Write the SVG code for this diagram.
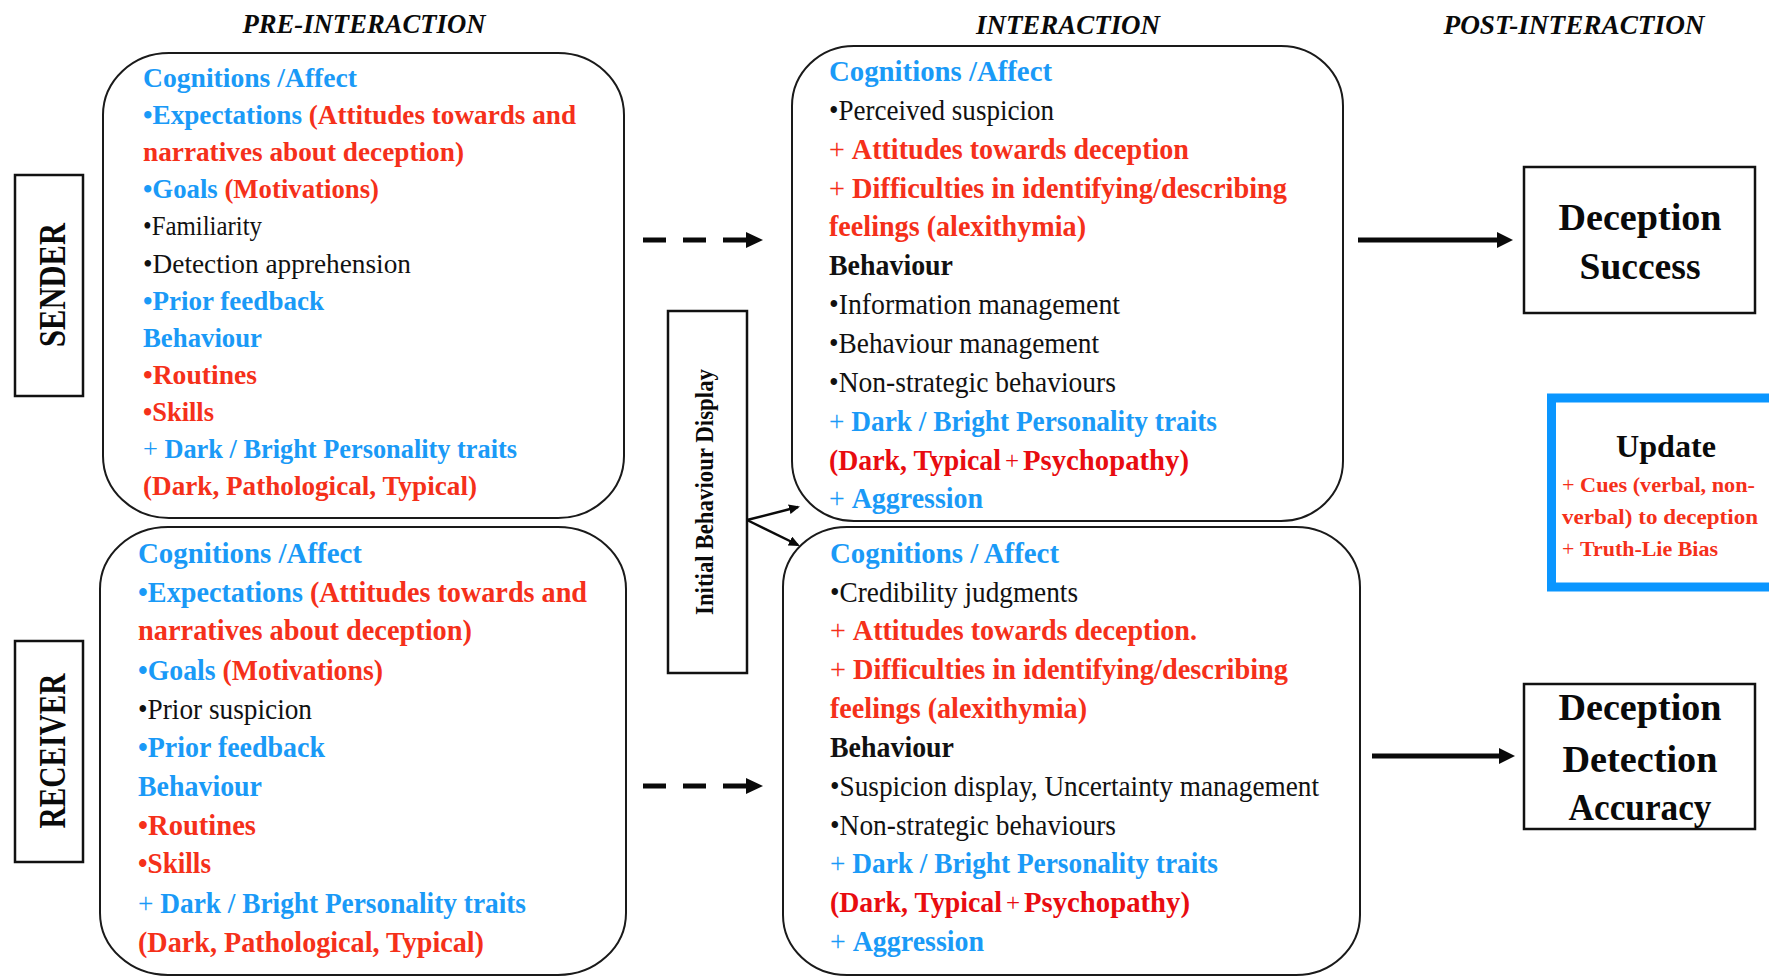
<svg xmlns="http://www.w3.org/2000/svg" width="1769" height="976" viewBox="0 0 1769 976">
<style>
text{font-family:"Liberation Serif","Times New Roman",serif;}
.h{font-size:27px;font-weight:bold;font-style:italic;fill:#0a0a0a;text-anchor:middle}
.s28{font-size:28px}
.s29{font-size:29px}
.b{font-weight:bold}
.n{font-weight:normal}
.bl{fill:#1A9AF7}
.rd{fill:#F5301A}
.rd2{fill:#E80C10}
.k{fill:#111}
.rbox{fill:#fff;stroke:#1a1a1a;stroke-width:2}
.sbox{fill:#fff;stroke:#111;stroke-width:2.5}
.side{font-size:38px;font-weight:bold;fill:#0a0a0a;text-anchor:middle}
.out{font-size:38px;font-weight:bold;fill:#0a0a0a;text-anchor:middle}
.con{stroke:#0a0a0a;fill:none}
.plus{font-size:25px;font-weight:normal}
</style>
<defs>
<marker id="bigHead" markerUnits="userSpaceOnUse" markerWidth="18" markerHeight="16" refX="0" refY="8" orient="auto">
<path d="M0,0 L16,8 L0,16 Z" fill="#0a0a0a"/>
</marker>
<marker id="smallHead" markerUnits="userSpaceOnUse" markerWidth="12" markerHeight="10" refX="9" refY="5" orient="auto">
<path d="M0,0 L11,5 L0,10 Z" fill="#0a0a0a"/>
</marker>
</defs>
<rect width="1769" height="976" fill="#fff"/>

<g id="titles">
<text class="h" x="364" y="33" textLength="243" lengthAdjust="spacingAndGlyphs">PRE-INTERACTION</text>
<text class="h" x="1068" y="34" textLength="184" lengthAdjust="spacingAndGlyphs">INTERACTION</text>
<text class="h" x="1574" y="34" textLength="261" lengthAdjust="spacingAndGlyphs">POST-INTERACTION</text>
</g>

<g id="sender">
<rect class="sbox" x="15" y="175" width="68" height="221"/>
<text class="side" transform="translate(65,285) rotate(-90)" x="0" y="0" textLength="124" lengthAdjust="spacingAndGlyphs">SENDER</text>
</g>

<g id="receiver">
<rect class="sbox" x="15" y="641" width="68" height="221"/>
<text class="side" transform="translate(65,751) rotate(-90)" x="0" y="0" textLength="155" lengthAdjust="spacingAndGlyphs">RECEIVER</text>
</g>

<g id="sender-pre">
<rect class="rbox" x="103" y="53" width="521" height="465" rx="66" ry="62"/>
<g class="s28">
<text x="143" y="87" class="b bl" textLength="214" lengthAdjust="spacingAndGlyphs">Cognitions /Affect</text>
<text x="143" y="124" class="b" textLength="433" lengthAdjust="spacingAndGlyphs"><tspan class="bl">•Expectations </tspan><tspan class="rd">(Attitudes towards and</tspan></text>
<text x="143" y="161" class="b rd" textLength="321" lengthAdjust="spacingAndGlyphs">narratives about deception)</text>
<text x="143" y="198" class="b" textLength="236" lengthAdjust="spacingAndGlyphs"><tspan class="bl">•Goals </tspan><tspan class="rd">(Motivations)</tspan></text>
<text x="143" y="235" class="k" textLength="119" lengthAdjust="spacingAndGlyphs">•Familiarity</text>
<text x="143" y="273" class="k" textLength="268" lengthAdjust="spacingAndGlyphs">•Detection apprehension</text>
<text x="143" y="310" class="b bl" textLength="181" lengthAdjust="spacingAndGlyphs">•Prior feedback</text>
<text x="143" y="347" class="b bl" textLength="119" lengthAdjust="spacingAndGlyphs">Behaviour</text>
<text x="143" y="384" class="b rd" textLength="114" lengthAdjust="spacingAndGlyphs">•Routines</text>
<text x="143" y="421" class="b rd" textLength="71" lengthAdjust="spacingAndGlyphs">•Skills</text>
<text x="143" y="458" class="bl" textLength="374" lengthAdjust="spacingAndGlyphs"><tspan class="n">+ </tspan><tspan class="b">Dark / Bright Personality traits</tspan></text>
<text x="143" y="495" class="b rd" textLength="334" lengthAdjust="spacingAndGlyphs">(Dark, Pathological, Typical)</text>
</g>
</g>

<g id="receiver-pre">
<rect class="rbox" x="100" y="527" width="526" height="448" rx="68" ry="62"/>
<g class="s29">
<text x="138" y="563" class="b bl" textLength="224" lengthAdjust="spacingAndGlyphs">Cognitions /Affect</text>
<text x="138" y="602" class="b" textLength="449" lengthAdjust="spacingAndGlyphs"><tspan class="bl">•Expectations </tspan><tspan class="rd">(Attitudes towards and</tspan></text>
<text x="138" y="640" class="b rd" textLength="334" lengthAdjust="spacingAndGlyphs">narratives about deception)</text>
<text x="138" y="680" class="b" textLength="245" lengthAdjust="spacingAndGlyphs"><tspan class="bl">•Goals </tspan><tspan class="rd">(Motivations)</tspan></text>
<text x="138" y="719" class="k" textLength="174" lengthAdjust="spacingAndGlyphs">•Prior suspicion</text>
<text x="138" y="757" class="b bl" textLength="187" lengthAdjust="spacingAndGlyphs">•Prior feedback</text>
<text x="138" y="796" class="b bl" textLength="124" lengthAdjust="spacingAndGlyphs">Behaviour</text>
<text x="138" y="835" class="b rd" textLength="118" lengthAdjust="spacingAndGlyphs">•Routines</text>
<text x="138" y="873" class="b rd" textLength="73" lengthAdjust="spacingAndGlyphs">•Skills</text>
<text x="138" y="913" class="bl" textLength="388" lengthAdjust="spacingAndGlyphs"><tspan class="n">+ </tspan><tspan class="b">Dark / Bright Personality traits</tspan></text>
<text x="138" y="952" class="b rd" textLength="346" lengthAdjust="spacingAndGlyphs">(Dark, Pathological, Typical)</text>
</g>
</g>

<g id="initial-behaviour-display">
<rect class="sbox" x="668" y="311" width="79" height="362"/>
<text transform="translate(713,492) rotate(-90)" x="0" y="0" font-size="26" font-weight="bold" fill="#0a0a0a" text-anchor="middle" textLength="246" lengthAdjust="spacingAndGlyphs">Initial Behaviour Display</text>
</g>

<g id="sender-interaction">
<rect class="rbox" x="792" y="46" width="551" height="475" rx="62" ry="60"/>
<g class="s29">
<text x="829" y="81" class="b bl" textLength="223" lengthAdjust="spacingAndGlyphs">Cognitions /Affect</text>
<text x="829" y="120" class="k" textLength="225" lengthAdjust="spacingAndGlyphs">•Perceived suspicion</text>
<text x="829" y="159" class="rd" textLength="360" lengthAdjust="spacingAndGlyphs"><tspan class="n">+ </tspan><tspan class="b">Attitudes towards deception</tspan></text>
<text x="829" y="198" class="rd" textLength="458" lengthAdjust="spacingAndGlyphs"><tspan class="n">+ </tspan><tspan class="b">Difficulties in identifying/describing</tspan></text>
<text x="829" y="236" class="b rd" textLength="257" lengthAdjust="spacingAndGlyphs">feelings (alexithymia)</text>
<text x="829" y="275" class="b k" textLength="124" lengthAdjust="spacingAndGlyphs">Behaviour</text>
<text x="829" y="314" class="k" textLength="291" lengthAdjust="spacingAndGlyphs">•Information management</text>
<text x="829" y="353" class="k" textLength="270" lengthAdjust="spacingAndGlyphs">•Behaviour management</text>
<text x="829" y="392" class="k" textLength="287" lengthAdjust="spacingAndGlyphs">•Non-strategic behaviours</text>
<text x="829" y="431" class="bl" textLength="388" lengthAdjust="spacingAndGlyphs"><tspan class="n">+ </tspan><tspan class="b">Dark / Bright Personality traits</tspan></text>
<text x="829" y="470" class="b rd2" textLength="172" lengthAdjust="spacingAndGlyphs">(Dark, Typical</text>
<text x="1005" y="469" class="plus rd2">+</text>
<text x="1023" y="470" class="b rd2" textLength="166" lengthAdjust="spacingAndGlyphs">Psychopathy)</text>
<text x="829" y="508" class="bl" textLength="154" lengthAdjust="spacingAndGlyphs"><tspan class="n">+ </tspan><tspan class="b">Aggression</tspan></text>
</g>
</g>

<g id="receiver-interaction">
<rect class="rbox" x="783" y="527" width="577" height="448" rx="64" ry="60"/>
<g class="s29">
<text x="830" y="563" class="b bl" textLength="229" lengthAdjust="spacingAndGlyphs">Cognitions / Affect</text>
<text x="830" y="602" class="k" textLength="248" lengthAdjust="spacingAndGlyphs">•Credibility judgments</text>
<text x="830" y="640" class="rd" textLength="367" lengthAdjust="spacingAndGlyphs"><tspan class="n">+ </tspan><tspan class="b">Attitudes towards deception.</tspan></text>
<text x="830" y="679" class="rd" textLength="458" lengthAdjust="spacingAndGlyphs"><tspan class="n">+ </tspan><tspan class="b">Difficulties in identifying/describing</tspan></text>
<text x="830" y="718" class="b rd" textLength="257" lengthAdjust="spacingAndGlyphs">feelings (alexithymia)</text>
<text x="830" y="757" class="b k" textLength="124" lengthAdjust="spacingAndGlyphs">Behaviour</text>
<text x="830" y="796" class="k" textLength="489" lengthAdjust="spacingAndGlyphs">•Suspicion display, Uncertainty management</text>
<text x="830" y="835" class="k" textLength="286" lengthAdjust="spacingAndGlyphs">•Non-strategic behaviours</text>
<text x="830" y="873" class="bl" textLength="388" lengthAdjust="spacingAndGlyphs"><tspan class="n">+ </tspan><tspan class="b">Dark / Bright Personality traits</tspan></text>
<text x="830" y="912" class="b rd2" textLength="172" lengthAdjust="spacingAndGlyphs">(Dark, Typical</text>
<text x="1006" y="911" class="plus rd2">+</text>
<text x="1024" y="912" class="b rd2" textLength="166" lengthAdjust="spacingAndGlyphs">Psychopathy)</text>
<text x="830" y="951" class="bl" textLength="154" lengthAdjust="spacingAndGlyphs"><tspan class="n">+ </tspan><tspan class="b">Aggression</tspan></text>
</g>
</g>

<g id="deception-success">
<rect class="sbox" x="1524" y="167" width="231" height="146"/>
<text class="out" x="1640" y="230" textLength="163" lengthAdjust="spacingAndGlyphs">Deception</text>
<text class="out" x="1640" y="279" textLength="121" lengthAdjust="spacingAndGlyphs">Success</text>
</g>

<g id="update">
<rect x="1551.5" y="398" width="240" height="189" fill="#fff" stroke="#0A96FF" stroke-width="9"/>
<text x="1666" y="457" font-size="32" font-weight="bold" fill="#0a0a0a" text-anchor="middle" textLength="100" lengthAdjust="spacingAndGlyphs">Update</text>
<text x="1562" y="492" font-size="22" class="rd" textLength="193" lengthAdjust="spacingAndGlyphs"><tspan class="n">+ </tspan><tspan class="b">Cues (verbal, non-</tspan></text>
<text x="1562" y="524" font-size="22" class="b rd" textLength="196" lengthAdjust="spacingAndGlyphs">verbal) to deception</text>
<text x="1562" y="556" font-size="22" class="rd" textLength="156" lengthAdjust="spacingAndGlyphs"><tspan class="n">+ </tspan><tspan class="b">Truth-Lie Bias</tspan></text>
</g>

<g id="deception-detection-accuracy">
<rect class="sbox" x="1524" y="684" width="231" height="145"/>
<text class="out" x="1640" y="720" textLength="163" lengthAdjust="spacingAndGlyphs">Deception</text>
<text class="out" x="1640" y="772" textLength="155" lengthAdjust="spacingAndGlyphs">Detection</text>
<text class="out" x="1640" y="820" textLength="143" lengthAdjust="spacingAndGlyphs">Accuracy</text>
</g>

<g id="connectors">
<line class="con" x1="643" y1="240" x2="747" y2="240" stroke-width="5" stroke-dasharray="23 17"/>
<path d="M746,232 L763,240 L746,248 Z" fill="#0a0a0a"/>
<line class="con" x1="643" y1="786" x2="747" y2="786" stroke-width="5" stroke-dasharray="23 17"/>
<path d="M746,778 L763,786 L746,794 Z" fill="#0a0a0a"/>
<line class="con" x1="1358" y1="240" x2="1497" y2="240" stroke-width="5" marker-end="url(#bigHead)"/>
<line class="con" x1="1372" y1="756" x2="1499" y2="756" stroke-width="5" marker-end="url(#bigHead)"/>
<line class="con" x1="747" y1="520" x2="798" y2="507" stroke-width="2.5" marker-end="url(#smallHead)"/>
<line class="con" x1="747" y1="520" x2="798" y2="545" stroke-width="2.5" marker-end="url(#smallHead)"/>
</g>
</svg>
